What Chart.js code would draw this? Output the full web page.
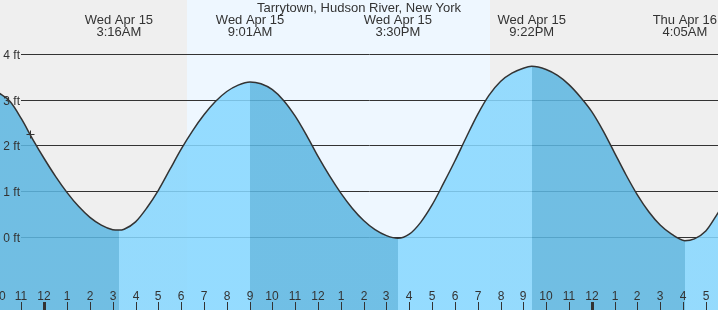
<!DOCTYPE html>
<html>
<head>
<meta charset="utf-8">
<script src="https://cdn.jsdelivr.net/npm/chart.js@4/dist/chart.umd.min.js"></script>
<style>
html,body{margin:0;padding:0;background:#efefef;}
canvas{display:block;}
</style>
</head>
<body>
<canvas id="c" width="718" height="310"></canvas>
<script>
// Hours are measured from midnight of Wed Apr 15
const tideHours = [-3.33, -3.0, -2.5, -2.0, -1.5, -1.0, -0.5, 0, 0.5, 1.0, 1.5, 2.0, 2.5, 3.0, 3.27,
  3.5, 4.0, 4.5, 5.0, 5.5, 6.0, 6.5, 7.0, 7.5, 8.0, 8.5, 9.02,
  9.5, 10.0, 10.5, 11.0, 11.5, 12.0, 12.5, 13.0, 13.5, 14.0, 14.5, 15.0, 15.5,
  16.0, 16.5, 17.0, 17.5, 18.0, 18.5, 19.0, 19.5, 20.0, 20.5, 21.0, 21.37,
  22.0, 22.5, 23.0, 23.5, 24.0, 24.5, 25.0, 25.5, 26.0, 26.5, 27.0, 27.5, 28.08,
  28.5, 29.0, 29.5, 30.0, 30.5];
const tideFeet = [3.40, 3.38, 3.30, 3.15, 2.96, 2.58, 2.13, 1.71, 1.32, 0.97, 0.67, 0.43, 0.26, 0.16, 0.15,
  0.17, 0.33, 0.64, 1.02, 1.47, 1.92, 2.32, 2.67, 2.96, 3.18, 3.32, 3.39,
  3.35, 3.22, 2.98, 2.64, 2.22, 1.76, 1.34, 0.96, 0.63, 0.36, 0.16, 0.03, -0.03,
  0.06, 0.32, 0.70, 1.17, 1.66, 2.18, 2.68, 3.10, 3.40, 3.58, 3.69, 3.73,
  3.66, 3.53, 3.33, 3.06, 2.74, 2.32, 1.84, 1.36, 0.92, 0.55, 0.26, 0.06, -0.08,
  -0.04, 0.13, 0.50, 0.92, 1.38];

const eventHours = [-3.33, 3.27, 9.02, 15.5, 21.37, 28.08];
const eventFeet  = [3.40, 0.15, 3.39, -0.03, 3.73, -0.08];
const eventDays  = ['Tue Apr 14', 'Wed Apr 15', 'Wed Apr 15', 'Wed Apr 15', 'Wed Apr 15', 'Thu Apr 16'];
const eventTimes = ['', '3:16AM', '9:01AM', '3:30PM', '9:22PM', '4:05AM'];

const sunriseHour = 6.25;
const sunsetHour = 19.54;

const hourTicks = [-2,-1,0,1,2,3,4,5,6,7,8,9,10,11,12,13,14,15,16,17,18,19,20,21,22,23,24,25,26,27,28,29];
const feetTicks = [0, 1, 2, 3, 4];
const nowMarker = [-0.63, 2.25];

const titleText = 'Tarrytown, Hudson River, New York';

const xMin = -1.942, xMax = 29.535;
const yMin = -1.596, yMax = 5.180;

const NIGHT = '#efefef', DAY = '#eef7ff';
const RISE = 'rgba(134,215,255,0.86)', FALL = 'rgba(92,182,225,0.86)';
const INK = '#333333';
const FONT = '"Liberation Sans", Arial, sans-serif';

function hourLabel(h){ const m = ((h % 12) + 12) % 12; return String(m === 0 ? 12 : m); }

function fillGradient(ctx){
  const chart = ctx.chart;
  const area = chart.chartArea;
  if (!area) return RISE;
  const xs = chart.scales.x;
  const g = chart.ctx.createLinearGradient(area.left, 0, area.right, 0);
  const w = area.right - area.left;
  const pos = h => Math.min(1, Math.max(0, (xs.getPixelForValue(h) - area.left) / w));
  const bounds = [xMin - 10].concat(eventHours, [xMax + 10]);
  for (let i = 0; i < bounds.length - 1; i++) {
    let rising;
    if (i === 0) rising = eventFeet[0] > eventFeet[1];
    else if (i === bounds.length - 2) rising = eventFeet[eventFeet.length-1] < eventFeet[eventFeet.length-2];
    else rising = eventFeet[i] > eventFeet[i-1];
    const col = rising ? RISE : FALL;
    g.addColorStop(pos(bounds[i]), col);
    g.addColorStop(pos(bounds[i+1]), col);
  }
  return g;
}

const decor = {
  id: 'decor',
  beforeDatasetsDraw(chart){
    const {ctx, chartArea: a, scales: {x, y}} = chart;
    ctx.save();
    ctx.fillStyle = NIGHT;
    ctx.fillRect(a.left, a.top, a.right - a.left, a.bottom - a.top);
    const sx = Math.round(x.getPixelForValue(sunriseHour)), ex = Math.round(x.getPixelForValue(sunsetHour));
    ctx.fillStyle = DAY;
    ctx.fillRect(sx, a.top, ex - sx, a.bottom - a.top);
    ctx.strokeStyle = INK;
    ctx.lineWidth = 1;
    feetTicks.forEach(f => {
      const py = Math.round(y.getPixelForValue(f)) + 0.5;
      ctx.beginPath();
      ctx.moveTo(21, py);
      ctx.lineTo(a.right, py);
      ctx.stroke();
    });
    ctx.restore();
  },
  afterDatasetsDraw(chart){
    const {ctx, chartArea: a, scales: {x, y}} = chart;
    ctx.save();
    ctx.fillStyle = INK;
    ctx.font = '12px ' + FONT;
    ctx.textAlign = 'right';
    ctx.textBaseline = 'alphabetic';
    feetTicks.forEach(f => {
      const py = Math.round(y.getPixelForValue(f));
      ctx.fillText(f + ' ft', 20, py + 4.5);
    });
    ctx.textAlign = 'center';
    hourTicks.forEach(h => {
      const px = Math.round(x.getPixelForValue(h));
      ctx.fillText(hourLabel(h), px, 300);
      const mid = (((h % 24) + 24) % 24) === 0;
      ctx.fillRect(px - (mid ? 1 : 0), 302, mid ? 3 : 1, a.bottom - 302);
    });
    ctx.font = '13px ' + FONT;
    ctx.fillText(titleText, a.left + (a.right - a.left) / 2, 12);
    eventHours.forEach((h, i) => {
      const px = x.getPixelForValue(h);
      ctx.fillText(eventDays[i], px, 24);
      if (eventTimes[i]) ctx.fillText(eventTimes[i], px, 36);
    });
    const mx = Math.round(x.getPixelForValue(nowMarker[0])) + 0.5;
    const my = Math.round(y.getPixelForValue(nowMarker[1])) + 0.5;
    ctx.strokeStyle = INK;
    ctx.lineWidth = 1;
    ctx.beginPath();
    ctx.moveTo(mx - 4, my); ctx.lineTo(mx + 4, my);
    ctx.moveTo(mx, my - 4); ctx.lineTo(mx, my + 4);
    ctx.stroke();
    ctx.restore();
  }
};

new Chart(document.getElementById('c'), {
  type: 'line',
  data: {
    datasets: [{
      data: tideHours.map((h, i) => ({x: h, y: tideFeet[i]})),
      borderColor: INK,
      borderWidth: 1.5,
      backgroundColor: fillGradient,
      fill: 'start',
      pointRadius: 0,
      cubicInterpolationMode: 'monotone'
    }]
  },
  options: {
    responsive: false,
    animation: false,
    devicePixelRatio: 1,
    layout: {padding: 0},
    plugins: {legend: {display: false}, tooltip: {enabled: false}, title: {display: false}},
    scales: {
      x: {type: 'linear', min: xMin, max: xMax, display: false},
      y: {type: 'linear', min: yMin, max: yMax, display: false}
    }
  },
  plugins: [decor]
});
</script>
</body>
</html>
